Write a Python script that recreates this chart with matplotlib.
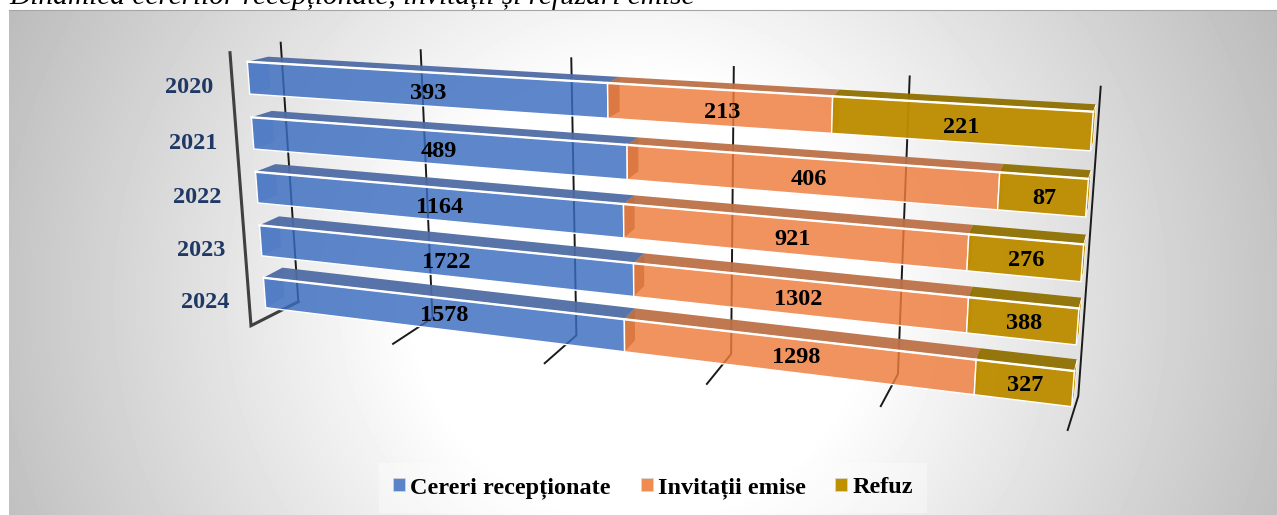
# plot.py - stacked 100% bars drawn in perspective, like the Office 3D bar chart

import numpy as np
import matplotlib
matplotlib.use('Agg')
import matplotlib.pyplot as plt
from matplotlib.colors import to_rgba
from matplotlib.patches import Patch

plt.rcParams['font.family'] = ['Liberation Serif', 'DejaVu Serif']

# ==================== data ====================
years = ['2020', '2021', '2022', '2023', '2024']
cereri = [393, 489, 1164, 1722, 1578]
invitatii = [213, 406, 921, 1302, 1298]
refuz = [221, 87, 276, 388, 327]
series_names = ['Cereri recepționate', 'Invitații emise', 'Refuz']
grid_shares = [0, 0.2, 0.4, 0.6, 0.8, 1.0]
title = 'Dinamica cererilor recepționate, invitații și refuzări emise'

# ==================== colours ====================
FRONT = [to_rgba('#3A6CC0', 0.82), to_rgba('#EE7C3C', 0.82), to_rgba('#BD8C00', 0.96)]
TOP = ['#4F6CA5', '#BC7146', '#8F7000']
SIDE = ['#C8CCD8', '#907060', '#BD8C00']
YEAR_COLOR = '#1F3864'
LEGEND_COLORS = ['#5B84C8', '#F08C50', '#BF9000']

W, H = 1277, 515
BAR_H = 0.58  # bar height as a share of the row step
V_MAX = len(years) - 1 + BAR_H


def homography(corners, umax=1.0, vmax=1.0):
    """Map (u, v) to pixels, from the tl, tr, bl, br corners of a plane."""
    src = [(0, 0), (umax, 0), (0, vmax), (umax, vmax)]
    rows, rhs = [], []
    for (u, v), (x, y) in zip(src, corners):
        rows.append([u, v, 1, 0, 0, 0, -u * x, -v * x])
        rows.append([0, 0, 0, u, v, 1, -u * y, -v * y])
        rhs += [x, y]
    h = np.append(np.linalg.solve(np.array(rows), np.array(rhs)), 1).reshape(3, 3)

    def project(u, v):
        p = h @ np.array([u, v, 1.0])
        return p[0] / p[2], p[1] / p[2]
    return project


# planes of the 3D box
bar_front = homography([(247.3, 61.7), (1093.3, 111.7), (265.7, 307.7), (1071.7, 406.7)], vmax=V_MAX)
bar_back = homography([(268.3, 56.7), (1096.0, 104.3), (284.5, 297.0), (1074.5, 394.5)], vmax=V_MAX)
wall_back = homography([(280.7, 42.7), (1100.7, 86.7), (298.3, 301.7), (1078.3, 396.0)])
floor = homography([(251.0, 325.7), (1067.7, 430.0), (298.3, 301.7), (1078.3, 396.0)])

fig = plt.figure(figsize=(W / 100, H / 100), dpi=100)
ax = fig.add_axes([0, 0, 1, 1])
ax.set_xlim(0, W)
ax.set_ylim(H, 0)
ax.axis('off')

# grey path gradient behind the chart
xx, yy = np.meshgrid(np.arange(9, W), np.arange(10, H))
r = np.sqrt(((xx - 640) / 640) ** 2 + ((yy - 300) / 620) ** 2)
shade = 255 - 68 * np.clip((r - 0.35) / 0.75, 0, 1)
ax.imshow(shade, cmap='gray', vmin=0, vmax=255, extent=(9, W, H, 10), aspect='auto',
          interpolation='bilinear', zorder=0)
ax.set_xlim(0, W)
ax.set_ylim(H, 0)
ax.plot([9, W], [10, 10], color='#A6A6A6', lw=0.8, zorder=1)

# title is cut by the top of the picture
ax.text(9, 4, title, fontsize=21.2, style='italic', ha='left', va='baseline', zorder=5, clip_on=False)

# gridlines on the back wall and the floor
for s in grid_shares:
    top = wall_back(s, 0)
    low = wall_back(s, 1)
    front = floor(s, 0)
    ax.plot([top[0], low[0], front[0]], [top[1], low[1], front[1]], color='#1A1A1A', lw=1.4, zorder=2,
            solid_joinstyle='miter')

# main axis line in front
ax.plot([230.0, 251.0, 298.3], [52.7, 325.7, 301.7], color='#404040', lw=2.2, zorder=2, solid_joinstyle='miter')


def poly(points, **kw):
    xs, ys = zip(*points)
    ax.fill(xs, ys, **kw)


values = np.array([cereri, invitatii, refuz], dtype=float)
shares = values / values.sum(axis=0)
starts = np.vstack([np.zeros(len(years)), np.cumsum(shares, axis=0)[:-1]])

for i, year in enumerate(years):
    v0, v1 = i, i + BAR_H
    for j in range(3):
        u0 = starts[j, i]
        u1 = u0 + shares[j, i]
        # inner end of the segment, seen through the front face
        poly([bar_front(u0, v0), bar_back(u0, v0), bar_back(u0, v1), bar_front(u0, v1)],
             color=SIDE[j], lw=0, zorder=3)
        # top face
        poly([bar_front(u0, v0), bar_front(u1, v0), bar_back(u1, v0), bar_back(u0, v0)],
             facecolor=TOP[j], edgecolor='none', alpha=0.95, zorder=3.1)
        # front face
        poly([bar_front(u0, v0), bar_front(u1, v0), bar_front(u1, v1), bar_front(u0, v1)],
             facecolor=FRONT[j], edgecolor='white', lw=1.0, zorder=3.3)
        a, b = bar_front(u0, v0), bar_front(u1, v0)
        ax.plot([a[0], b[0]], [a[1], b[1]], color='white', lw=1.7, zorder=3.4)
        # value label in the middle of the box
        fx, fy = bar_front((u0 + u1) / 2, (v0 + v1) / 2)
        bx, by = bar_back((u0 + u1) / 2, (v0 + v1) / 2)
        ax.text((fx + bx) / 2, (fy + by) / 2 + 8, f'{int(values[j, i])}', fontsize=17.5, fontweight='bold',
                color='black', ha='center', va='center', zorder=6)
    # closing end on the right
    poly([bar_front(1, v0), bar_back(1, v0), bar_back(1, v1), bar_front(1, v1)],
         facecolor='#C09000', edgecolor='white', lw=0.5, zorder=3.2)
    lx, ly = bar_front(0, (v0 + v1) / 2)
    ax.text(lx - 59.5, ly + 10, year, fontsize=17.5, fontweight='bold', color=YEAR_COLOR,
            ha='center', va='center', zorder=6)

# legend on a pale band
handles = [Patch(facecolor=c, edgecolor='#D8D8D8', lw=0.5) for c in LEGEND_COLORS]
leg = ax.legend(handles, series_names, ncol=3, loc='center', bbox_to_anchor=(653 / W, 1 - 488 / H),
                frameon=True, framealpha=0.35, facecolor='white', edgecolor='none',
                prop={'family': 'Liberation Serif', 'weight': 'bold', 'size': 17.5},
                handlelength=0.5, handleheight=0.5, handletextpad=0.2, columnspacing=1.23,
                borderpad=0.6, fancybox=False)
leg.set_zorder(4)

plt.savefig('out.png', dpi=100)
plt.close()
